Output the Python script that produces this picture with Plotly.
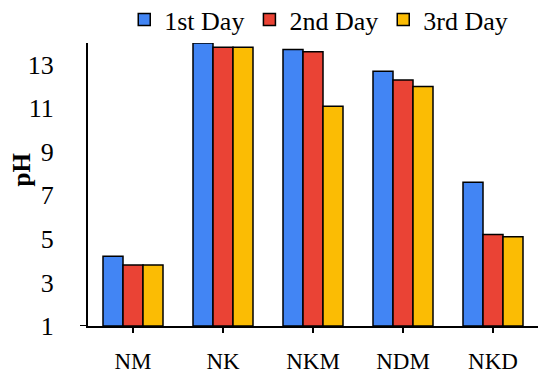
import plotly.graph_objects as go

categories = ["NM", "NK", "NKM", "NDM", "NKD"]
day1 = [4.2, 14.0, 13.7, 12.7, 7.6]
day2 = [3.8, 13.8, 13.6, 12.3, 5.2]
day3 = [3.8, 13.8, 11.1, 12.0, 5.1]
series_names = ["1st Day", "2nd Day", "3rd Day"]
colors = ["#4285F4", "#EA4335", "#FBBC04"]
y_ticks = [1, 3, 5, 7, 9, 11, 13]
y_base = 1

FONT = "Liberation Serif"

fig = go.Figure()
for name, vals, col in zip(series_names, [day1, day2, day3], colors):
    fig.add_trace(go.Bar(
        x=categories, y=[v - y_base for v in vals], base=y_base,
        name=f"<span style='font-family:{FONT}'>{name}</span>",
        marker=dict(color=col, line=dict(color="black", width=1.5)),
    ))

fig.update_layout(
    width=538, height=374,
    margin=dict(l=88, r=0, t=43, b=48, autoexpand=False),
    paper_bgcolor="white", plot_bgcolor="white",
    barmode="group", bargap=1/3, bargroupgap=0,
    font=dict(family=FONT, size=26, color="black"),
    showlegend=True,
    legend=dict(orientation="h", x=0.945, xanchor="right",
                y=1.0, yanchor="bottom",
                font=dict(family=FONT, size=26, color="black"),
                itemwidth=30, traceorder="normal", bgcolor="rgba(0,0,0,0)"),
    shapes=[dict(type="line", xref="paper", yref="y", x0=-8/450, x1=0,
                 y0=y_base, y1=y_base, line=dict(color="black", width=2))],
    annotations=[dict(text="<b>pH</b>", xref="paper", yref="paper", x=0, y=0.5,
                      xanchor="center", yanchor="middle",
                      xshift=-67, yshift=15, textangle=-90, showarrow=False,
                      font=dict(family=FONT, size=25, color="black"))],
)
fig.update_xaxes(
    showline=True, linecolor="black", linewidth=2,
    ticks="outside", ticklen=5, tickwidth=2, tickcolor="black",
    ticklabelstandoff=8,
    showgrid=False, tickfont=dict(family=FONT, size=23),
)
fig.update_yaxes(
    range=[1, 14], tickvals=y_ticks, ticktext=[str(t) for t in y_ticks],
    showline=True, linecolor="black", linewidth=2,
    ticks="", showgrid=False, zeroline=False,
    ticklabelstandoff=27,
    tickfont=dict(family=FONT, size=26),
)

fig.write_html(
    "out.html",
    config={"displayModeBar": False},
    post_script="document.body.style.margin='0';document.body.style.overflow='hidden';",
)
